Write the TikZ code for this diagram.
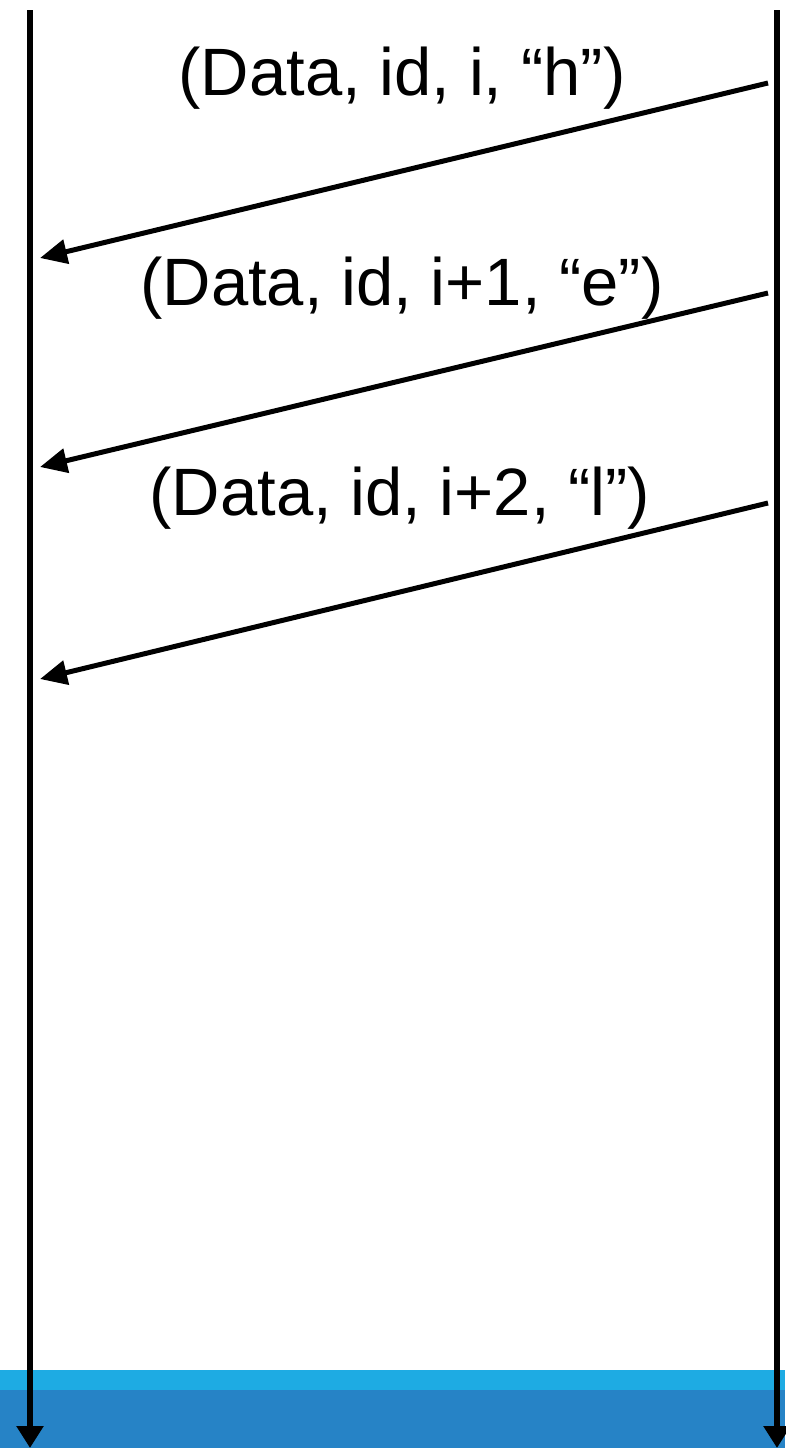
\documentclass[tikz,border=0pt]{standalone}
\usepackage{fontspec}
\setmainfont{Liberation Sans}
\usetikzlibrary{arrows.meta}
\definecolor{bandlight}{HTML}{1EABE3}
\definecolor{banddark}{HTML}{2683C6}
\tikzset{
  lifeline/.style={line width=5.5pt,-{Triangle[length=22pt,width=26pt]}},
  msg/.style={line width=5pt,-{Triangle[length=27pt,width=24pt]}},
  msglabel/.style={font=\fontsize{67}{80}\selectfont,inner sep=0pt,anchor=base}
}
\begin{document}
\begin{tikzpicture}[x=1pt,y=-1pt]
\useasboundingbox (0,0) rectangle (785,1448);
\fill[bandlight] (0,1370) rectangle (785,1390);
\fill[banddark] (0,1390) rectangle (785,1448);
\coordinate (Ltop) at (30,10);
\coordinate (Lbot) at (30,1448);
\coordinate (Rtop) at (777,10);
\coordinate (Rbot) at (777,1448);
\draw[lifeline] (Ltop) -- (Lbot);
\draw[lifeline] (Rtop) -- (Rbot);
\coordinate (s1) at (768,83);
\coordinate (e1) at (40,258);
\coordinate (s2) at (768,293);
\coordinate (e2) at (40,467);
\coordinate (s3) at (768,503);
\coordinate (e3) at (40,679);
\draw[msg] (s1) -- (e1);
\draw[msg] (s2) -- (e2);
\draw[msg] (s3) -- (e3);
\node[msglabel] (l1) at (402,95) {(Data, id, i, “h”)};
\node[msglabel] (l2) at (402,305) {(Data, id, i+1, “e”)};
\node[msglabel] (l3) at (400,515) {(Data, id, i+2, “l”)};
\end{tikzpicture}
\end{document}
